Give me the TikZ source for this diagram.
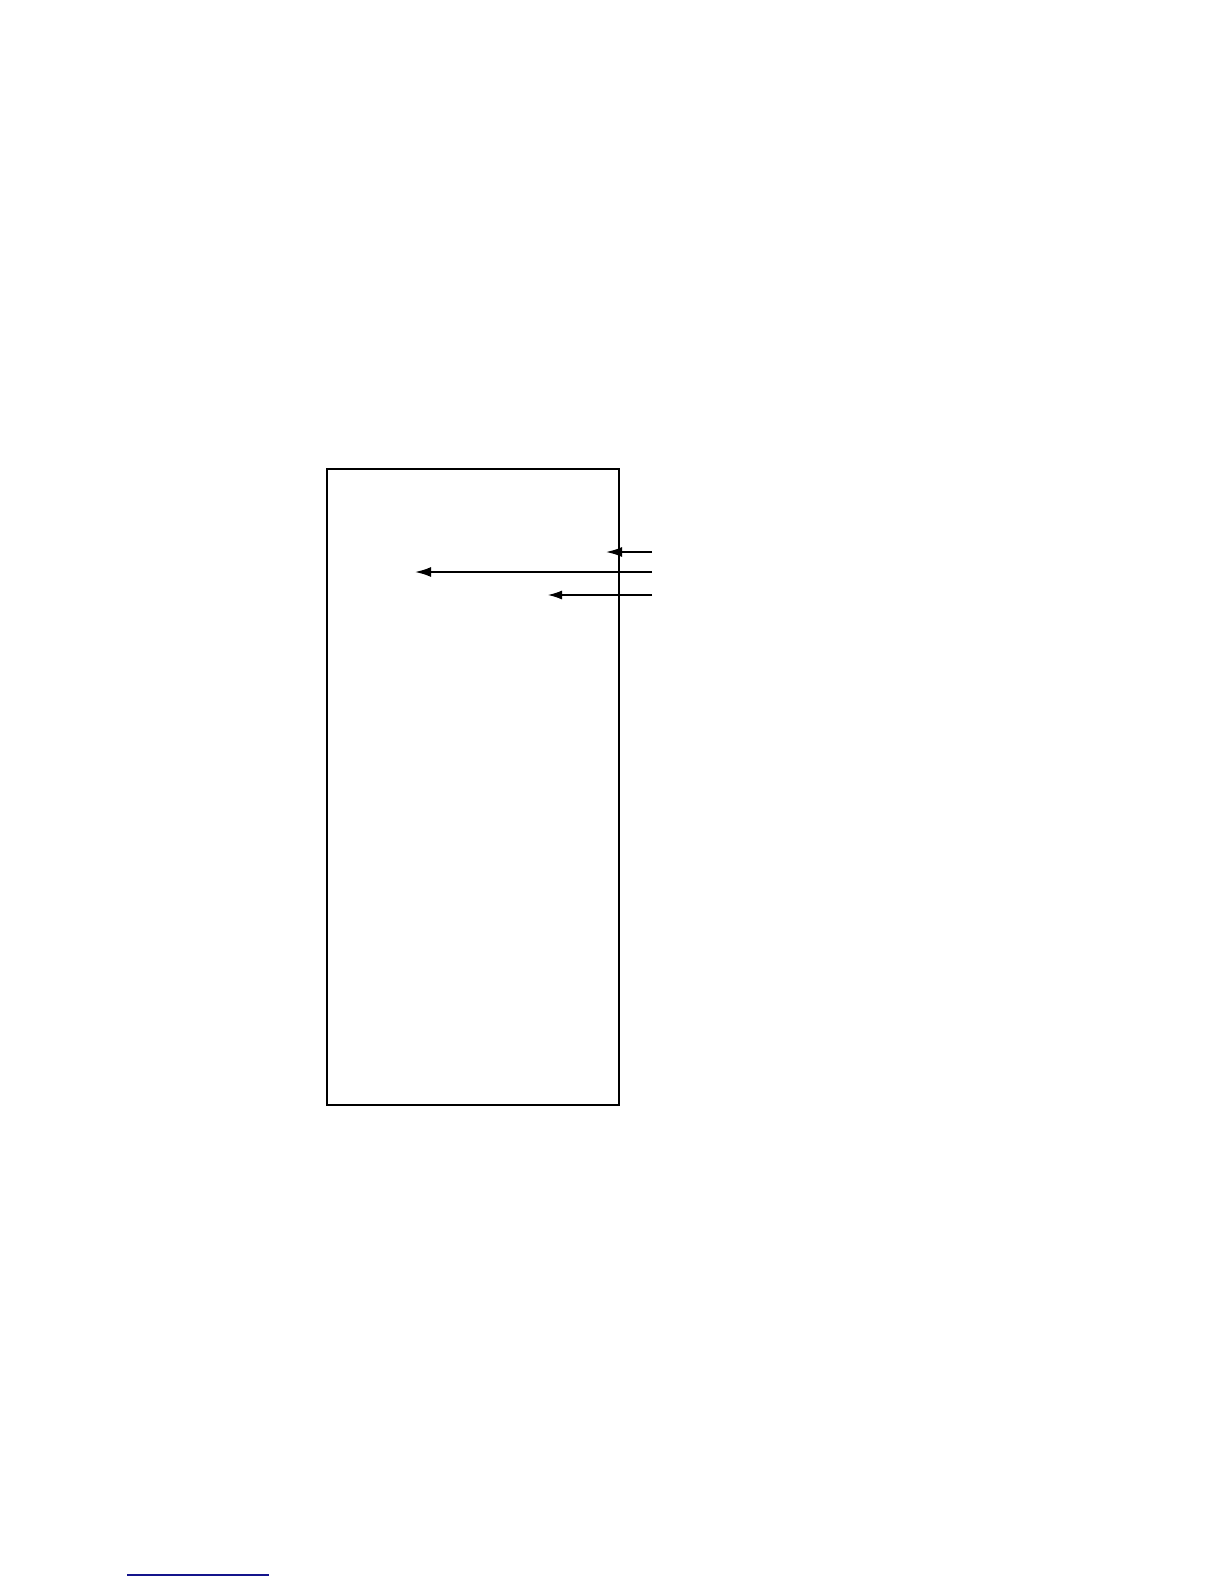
\documentclass[tikz,border=0pt]{standalone}
\usetikzlibrary{arrows.meta}
\definecolor{linkblue}{RGB}{20,20,140}
\tikzset{
  frame/.style={draw=black, line width=0.9pt},
  ptr/.style={-{Latex[length=8pt,width=5pt]}, line width=0.9pt},
  thinptr/.style={-{Latex[length=7pt,width=4.5pt]}, line width=0.55pt},
}
\begin{document}
\begin{tikzpicture}[x=0.5pt,y=-0.5pt]
\useasboundingbox (0,0) rectangle (1224,1584);
\node[frame, minimum width=146pt, minimum height=318pt, inner sep=0pt, anchor=north west] (box) at (326,468) {};
\coordinate (s1) at (652,552);
\coordinate (t1) at (606,552);
\coordinate (s2) at (652,572);
\coordinate (t2) at (415,572);
\coordinate (s3) at (652,595);
\coordinate (t3) at (548,595);
\draw[ptr] (s1) -- (t1);
\draw[ptr] (s2) -- (t2);
\draw[thinptr] (s3) -- (t3);
\coordinate (u1) at (127,1575);
\coordinate (u2) at (269,1575);
\draw[linkblue, line width=0.6pt] (u1) -- (u2);
\end{tikzpicture}
\end{document}
